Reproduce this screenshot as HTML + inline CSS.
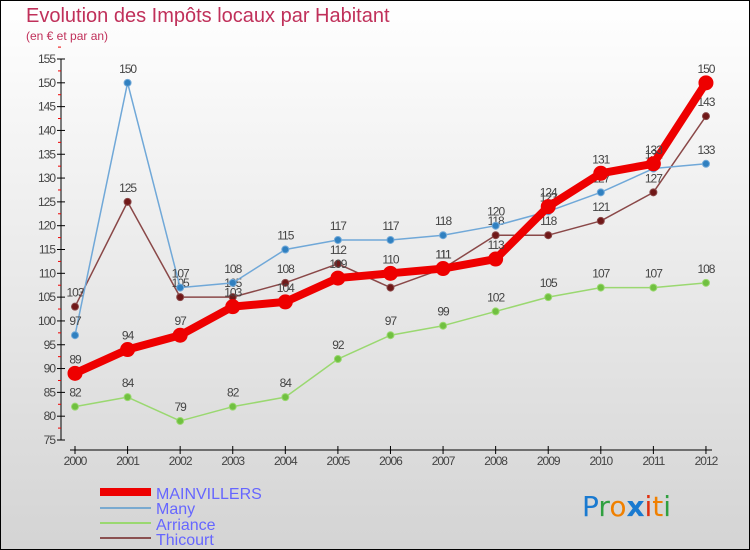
<!DOCTYPE html>
<html><head><meta charset="utf-8"><style>
body{margin:0}
#c{width:750px;height:550px;position:relative;box-sizing:border-box;border:1px solid #000;background:linear-gradient(#fff,#d4d4d4);font-family:"Liberation Sans",sans-serif;overflow:hidden}
</style></head><body>
<div id="c">
<svg id="s" width="750" height="550" style="position:absolute;left:-1px;top:-1px" font-family="Liberation Sans, sans-serif">
<text x="26" y="22" font-size="20" fill="#c0305a">Evolution des Impôts locaux par Habitant</text>
<text x="26" y="40" font-size="12" fill="#c0305a">(en € et par an)</text>
<g id="ax"></g><g id="pl"></g>
<g>
<rect x="100" y="488" width="51" height="8" fill="#e00"/>
<text x="156" y="499" font-size="16" fill="#6666ff">MAINVILLERS</text>
<rect x="100" y="507" width="51" height="2" fill="#7aaad0"/>
<text x="156" y="514" font-size="16" fill="#6666ff">Many</text>
<rect x="100" y="522" width="51" height="2" fill="#9ad870"/>
<text x="156" y="530" font-size="16" fill="#6666ff">Arriance</text>
<rect x="100" y="537" width="51" height="2" fill="#8a5050"/>
<text x="156" y="545" font-size="16" fill="#6666ff">Thicourt</text>
</g>
<g font-size="28" font-family="DejaVu Sans, sans-serif">
<text x="582" y="516"><tspan fill="#1a7ad0">P</tspan><tspan fill="#30a040">r</tspan><tspan fill="#f08000">o</tspan><tspan fill="#1a7ad0" font-weight="bold">x</tspan><tspan fill="#e03010">i</tspan><tspan fill="#f08000">t</tspan><tspan fill="#30a040">i</tspan></text>
</g>
</svg>
</div>
<script>
const years=[2000,2001,2002,2003,2004,2005,2006,2007,2008,2009,2010,2011,2012];
const mainvillers=[89,94,97,103,104,109,110,111,113,124,131,133,150];
const many=[97,150,107,108,115,117,117,118,120,123,127,132,133];
const arriance=[82,84,79,82,84,92,97,99,102,105,107,107,108];
const thicourt=[103,125,105,105,108,112,107,111,118,118,121,127,143];
const yTicks=[75,80,85,90,95,100,105,110,115,120,125,130,135,140,145,150,155];
const NS="http://www.w3.org/2000/svg";
const X=i=>75+i*52.58, Y=v=>440-(v-75)*4.7625;
function mk(p,t,a){const e=document.createElementNS(NS,t);for(const k in a)e.setAttribute(k,a[k]);p.appendChild(e);return e;}
const ax=document.getElementById('ax'),pl=document.getElementById('pl');
const ya=mk(ax,'line',{x1:61,y1:Y(155),x2:61,y2:Y(75),stroke:'#000'});


yTicks.forEach(v=>{
 mk(ax,'line',{x1:57,x2:65,y1:Y(v),y2:Y(v),stroke:'#000'});
 mk(ax,'line',{x1:58,x2:61,y1:Y(v+2.5),y2:Y(v+2.5),stroke:'#e00'});
 const t=mk(ax,'text',{x:55,y:Y(v)+4,'font-size':12,'text-anchor':'end',fill:'#444','letter-spacing':'-1'});
 t.textContent=v;
 
 
});
const xa=mk(ax,'line',{x1:70,y1:450,x2:712,y2:450,stroke:'#000'});


years.forEach((y,i)=>{
 mk(ax,'line',{x1:X(i),x2:X(i),y1:446,y2:454,stroke:'#000'});
 const t=mk(ax,'text',{x:X(i),y:465,'font-size':12,'text-anchor':'middle',fill:'#444','letter-spacing':'-1'});
 t.textContent=y;
 
 
});
function series(name,data,color,w,r,dot){
 const g=mk(pl,'g',{});
 
 
 mk(g,'polyline',{points:data.map((v,i)=>X(i)+','+Y(v)).join(' '),fill:'none',stroke:color,'stroke-width':w,'stroke-linejoin':'round'});
 data.forEach((v,i)=>{
  const c=mk(g,'circle',{cx:X(i),cy:Y(v),r:r,fill:dot,stroke:color,'stroke-width':1});
  
  
  const t=mk(g,'text',{x:X(i),y:Y(v)-10,'font-size':12,'text-anchor':'middle',fill:'#444','letter-spacing':'-1'});
  t.textContent=v;
  
  
 });
}
series('arriance',arriance,'#9ad870',1.5,3.5,'#70c040');
series('thicourt',thicourt,'#8a4848',1.5,3.5,'#701818');
series('many',many,'#70a8d8',1.5,3.5,'#3080c0');
series('mainvillers',mainvillers,'#ee0000',8,7,'#ee0000');
</script>
</body></html>
